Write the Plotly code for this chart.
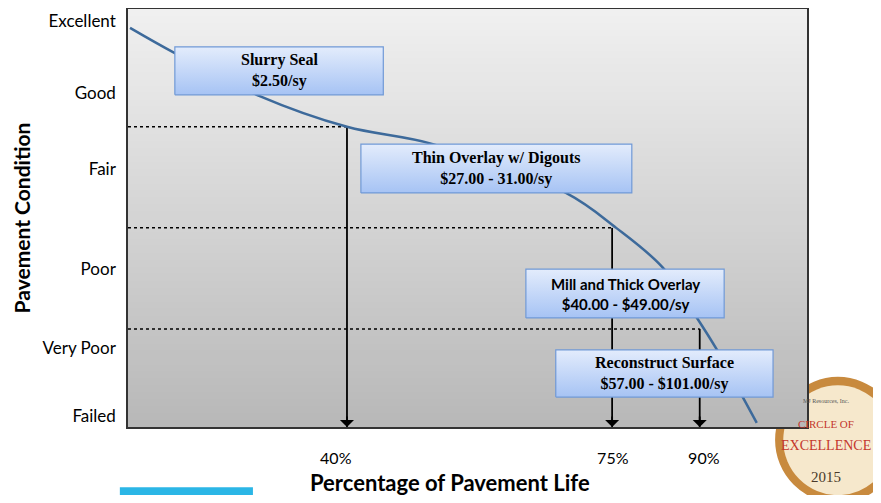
import plotly.graph_objects as go

# y axis: pavement condition scale (position on a 0-100 axis)
condition_labels = ["Excellent", "Good", "Fair", "Poor", "Very Poor", "Failed"]
condition_pos = [96.4, 79.3, 61.3, 37.5, 18.8, 2.6]

# deterioration curve (x: position along pavement life axis, y: condition)
curve_x = [0.3, 6.9, 19.4, 32.25, 44.9, 64.5, 71.9, 78.8, 83.8, 86.75, 90.6, 92.6]
curve_y = [94.8, 88.8, 78.6, 71.3, 67.2, 55.6, 47.3, 37.8, 25.9, 18.3, 6.9, 1.0]

# treatment trigger points
life_labels = ["40%", "75%", "90%"]
life_pos = [32.25, 71.3, 84.2]
label_pos = [30.6, 71.4, 84.8]
trigger_level = [71.3, 47.3, 23.3]

# treatment boxes
treatments = [
    "Slurry Seal<br>$2.50/sy",
    "Thin Overlay w/ Digouts<br>$27.00 - 31.00/sy",
    "Mill and Thick Overlay<br>$40.00 - $49.00/sy",
    "Reconstruct Surface<br>$57.00 - $101.00/sy",
]
box_x = [(6.9, 37.6), (34.3, 74.2), (58.6, 87.8), (63.0, 95.0)]
box_y = [(78.9, 90.3), (55.6, 67.2), (25.9, 37.5), (7.1, 18.3)]
box_font = ["Liberation Serif", "Liberation Serif", "Lato", "Liberation Serif"]

SANS = "Lato"
SERIF = "Liberation Serif"

fig = go.Figure()

# medal in the lower right corner (sits behind the plot area)
fig.add_shape(type="circle", xref="paper", yref="paper", layer="below",
              x0=0.953, x1=1.138, y0=-0.182, y1=0.120,
              fillcolor="#c88a3e", line=dict(width=0))
fig.add_shape(type="circle", xref="paper", yref="paper", layer="below",
              x0=0.965, x1=1.126, y0=-0.163, y1=0.100,
              fillcolor="#f6e8cc", line=dict(width=0))

# plot background: vertical grey gradient in bands
n_bands = 60
for i in range(n_bands):
    t = i / (n_bands - 1)
    g = int(round(0xb8 + (0xf0 - 0xb8) * t))
    fig.add_shape(type="rect", xref="paper", yref="paper", layer="below",
                  x0=0, x1=1, y0=i / n_bands, y1=(i + 1) / n_bands + 0.002,
                  fillcolor=f"rgb({g},{g},{g})", line=dict(width=0))

# dotted threshold lines and arrows down to the life axis
for x, lvl in zip(life_pos, trigger_level):
    fig.add_trace(go.Scatter(
        x=[0, x], y=[lvl, lvl], mode="lines",
        line=dict(color="black", width=1.5, dash="dot"),
        hoverinfo="skip", showlegend=False,
    ))
    fig.add_trace(go.Scatter(
        x=[x, x], y=[lvl, 0], mode="lines",
        line=dict(color="black", width=1.8),
        hoverinfo="skip", showlegend=False,
    ))
    fig.add_annotation(x=x, y=0, ax=0, ay=-12, text="", showarrow=True,
                       arrowhead=1, arrowsize=1.3, arrowwidth=1.8, arrowcolor="black")

# condition curve
fig.add_trace(go.Scatter(
    x=curve_x, y=curve_y, mode="lines",
    line=dict(color="#3d6a9b", width=2.5, shape="spline", smoothing=1.0),
    hoverinfo="skip", showlegend=False,
))

# treatment boxes
for text, (x0, x1), (y0, y1), fnt in zip(treatments, box_x, box_y, box_font):
    fig.add_trace(go.Scatter(
        x=[x0, x1, x1, x0, x0], y=[y0, y0, y1, y1, y0], mode="lines",
        fill="toself", line=dict(color="#7099d6", width=1.2),
        fillgradient=dict(type="vertical", colorscale=[[0, "#a6c3f4"], [1, "#e3ecfc"]]),
        hoverinfo="skip", showlegend=False,
    ))
    fig.add_annotation(
        x=(x0 + x1) / 2, y=(y0 + y1) / 2, text=f"<b>{text}</b>", showarrow=False,
        font=dict(family=fnt, size=16 if fnt == SERIF else 15, color="black"),
    )

# medal text
for txt, yy, sz, col in [
    ("MJ Resources, Inc.", 0.062, 6, "#555555"),
    ("CIRCLE OF", 0.006, 11, "#c4372c"),
    ("EXCELLENCE", -0.045, 14, "#c4372c"),
    ("2015", -0.120, 15, "#4a3a2a"),
]:
    fig.add_annotation(x=1.028, y=yy, xref="paper", yref="paper", text=txt,
                       xanchor="center", yanchor="middle", showarrow=False,
                       font=dict(family=SERIF, size=sz, color=col))

# cyan corner graphic at bottom left
fig.add_shape(type="rect", xref="paper", yref="paper", layer="below",
              x0=-0.012, x1=0.184, y0=-0.182, y1=-0.144,
              fillcolor="#2bb6e6", line=dict(width=0))

# axis titles
fig.add_annotation(x=0.474, y=-0.095, xref="paper", yref="paper",
                   text="<b>Percentage of Pavement Life</b>", showarrow=False,
                   xanchor="center", yanchor="top",
                   font=dict(family=SANS, size=22, color="black"))
fig.add_annotation(x=-0.157, y=0.50, xref="paper", yref="paper",
                   text="<b>Pavement Condition</b>", showarrow=False, textangle=-90,
                   xanchor="center", yanchor="middle",
                   font=dict(family=SANS, size=21, color="black"))

fig.update_layout(
    width=865, height=487,
    margin=dict(l=120, r=66, t=1, b=68),
    paper_bgcolor="white", plot_bgcolor="rgba(0,0,0,0)",
    font=dict(family=SANS, color="black"),
    xaxis=dict(
        range=[0, 100], tickvals=label_pos, ticktext=life_labels,
        showgrid=False, zeroline=False, ticks="", ticklabelstandoff=16,
        tickfont=dict(size=16, family=SANS), automargin=False,
        showline=True, linecolor="#333333", linewidth=1.5, mirror=True,
    ),
    yaxis=dict(
        range=[0, 99.29], tickvals=condition_pos, ticktext=condition_labels,
        showgrid=False, zeroline=False, ticks="", ticklabelstandoff=7,
        tickfont=dict(size=17, family=SANS), automargin=False,
        showline=True, linecolor="#333333", linewidth=1.5, mirror=True,
    ),
)

fig.write_html("out.html")
